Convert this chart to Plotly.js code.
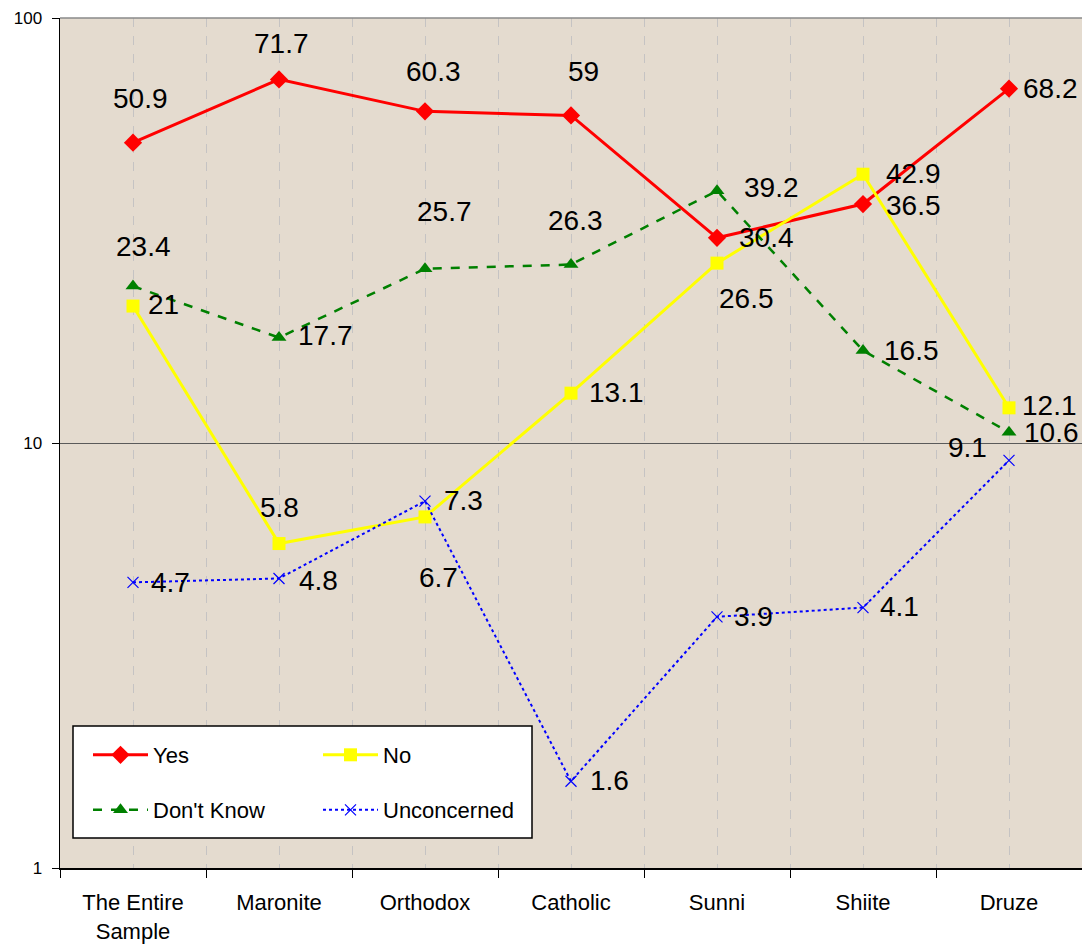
<!DOCTYPE html>
<html>
<head>
<meta charset="utf-8">
<script src="https://cdn.plot.ly/plotly-3.0.1.min.js"></script>
<style>html,body{margin:0;padding:0;background:#fff}#chart{width:1082px;height:946px}</style>
</head>
<body>
<div id="chart"></div>
<script>
const categories = ["The Entire<br>Sample", "Maronite", "Orthodox", "Catholic", "Sunni", "Shiite", "Druze"];
const yesValues = [50.9, 71.7, 60.3, 59, 30.4, 36.5, 68.2];
const noValues = [21, 5.8, 6.7, 13.1, 26.5, 42.9, 12.1];
const dontKnowValues = [23.4, 17.7, 25.7, 26.3, 39.2, 16.5, 10.6];
const unconcernedValues = [4.7, 4.8, 7.3, 1.6, 3.9, 4.1, 9.1];
const seriesNames = ["Yes", "No", "Don't Know", "Unconcerned"];

// label offsets (pixels, dx right, dy down) relative to each marker
const yesOffsets = [[7,-44],[2,-36],[8,-40],[12,-44],[49,0],[50,1],[41,0]];
const noOffsets = [[30,-2],[0,-36],[13,61],[45,-1],[29,35],[50,-1],[40,-2]];
const dkOffsets = [[10,-40],[46,-2],[19,-57],[4,-44],[54,-3],[48,0],[42,0]];
const unOffsets = [[37,0],[39,2],[38,-1],[38,-1],[36,0],[36,-1],[-42,-13]];

const font = "Liberation Sans, Arial, sans-serif";

const series = [
  {name: seriesNames[0], y: yesValues, off: yesOffsets, legend: "legend",
   line: {color: "#FF0000", width: 3}, marker: {symbol: "diamond", size: 14, color: "#FF0000"}},
  {name: seriesNames[1], y: noValues, off: noOffsets, legend: "legend",
   line: {color: "#FFFF00", width: 3}, marker: {symbol: "square", size: 13, color: "#FFFF00"}},
  {name: seriesNames[2], y: dontKnowValues, off: dkOffsets, legend: "legend2",
   line: {color: "#008000", width: 2.5, dash: "dash"}, marker: {symbol: "triangle-up", size: 13, color: "#008000"}},
  {name: seriesNames[3], y: unconcernedValues, off: unOffsets, legend: "legend2",
   line: {color: "#0000FF", width: 2, dash: "dot"}, marker: {symbol: "x-thin-open", size: 11, color: "#0000FF", line: {width: 1.2, color: "#0000FF"}}}
];

const traces = series.map(s => ({
  type: "scatter", mode: "lines+markers", x: categories, y: s.y, name: s.name,
  legend: s.legend, line: s.line, marker: s.marker, cliponaxis: false, hoverinfo: "x+y+name"
}));

// overlay axis for grid lines at category centres
traces.push({type: "scatter", x: categories, y: yesValues, xaxis: "x2", mode: "none", showlegend: false, hoverinfo: "skip"});

const annotations = [];
series.forEach(s => {
  s.y.forEach((v, i) => {
    annotations.push({
      x: categories[i], y: Math.log10(v), xref: "x", yref: "y",
      text: String(v), showarrow: false, xanchor: "center", yanchor: "middle",
      xshift: s.off[i][0], yshift: -s.off[i][1],
      font: {family: font, size: 28, color: "#000"}
    });
  });
});

const W = 1022, H = 850;
const layout = {
  width: 1082, height: 946,
  margin: {l: 60, r: 0, t: 18, b: 78, pad: 0},
  paper_bgcolor: "#FFFFFF", plot_bgcolor: "#E4DBCF",
  showlegend: true,
  font: {family: font, color: "#000"},
  xaxis: {
    type: "category", tickson: "boundaries", ticks: "outside", ticklen: 8, tickcolor: "#000",
    showline: true, linecolor: "#000", linewidth: 1.5, showgrid: true,
    gridcolor: "#C5C3C3", griddash: "dash", gridwidth: 1, ticklabelstandoff: 14,
    tickfont: {family: font, size: 22, color: "#000"}, range: [-0.5, 6.5], fixedrange: true
  },
  xaxis2: {
    type: "category", overlaying: "x", matches: "x", showticklabels: false, ticks: "",
    showgrid: true, gridcolor: "#C5C3C3", griddash: "dash", gridwidth: 1, showline: false, zeroline: false
  },
  yaxis: {
    type: "log", range: [0, 2], tickvals: [1, 10, 100], ticktext: ["1", "10", "100"],
    ticks: "outside", ticklen: 7, tickcolor: "#000", ticklabelstandoff: 6,
    showline: true, linecolor: "#000", linewidth: 1.5, showgrid: true, gridcolor: "#5A5A5A", gridwidth: 1,
    tickfont: {family: font, size: 17, color: "#000"}, zeroline: false, fixedrange: true
  },
  shapes: [
    {type: "rect", xref: "paper", yref: "paper", x0: 13 / W, x1: 472 / W, y0: 30 / H, y1: 142 / H,
     fillcolor: "#FFFFFF", line: {color: "#000", width: 1.5}, layer: "above"},
    {type: "line", xref: "paper", yref: "paper", x0: 0, x1: 1, y0: 1, y1: 1, line: {color: "#8A8A8A", width: 1.5}, layer: "above"}
  ],
  legend: {
    orientation: "h", x: 28 / W, y: 113 / H, xanchor: "left", yanchor: "middle",
    bgcolor: "rgba(0,0,0,0)", borderwidth: 0, itemwidth: 55, entrywidth: 160,
    font: {family: font, size: 22, color: "#000"}, traceorder: "normal"
  },
  legend2: {
    orientation: "h", x: 28 / W, y: 58 / H, xanchor: "left", yanchor: "middle",
    bgcolor: "rgba(0,0,0,0)", borderwidth: 0, itemwidth: 55, entrywidth: 160,
    font: {family: font, size: 22, color: "#000"}, traceorder: "normal"
  },
  annotations: annotations,
  hovermode: "closest"
};

Plotly.newPlot("chart", traces, layout, {displayModeBar: false, staticPlot: true});
</script>
</body>
</html>
